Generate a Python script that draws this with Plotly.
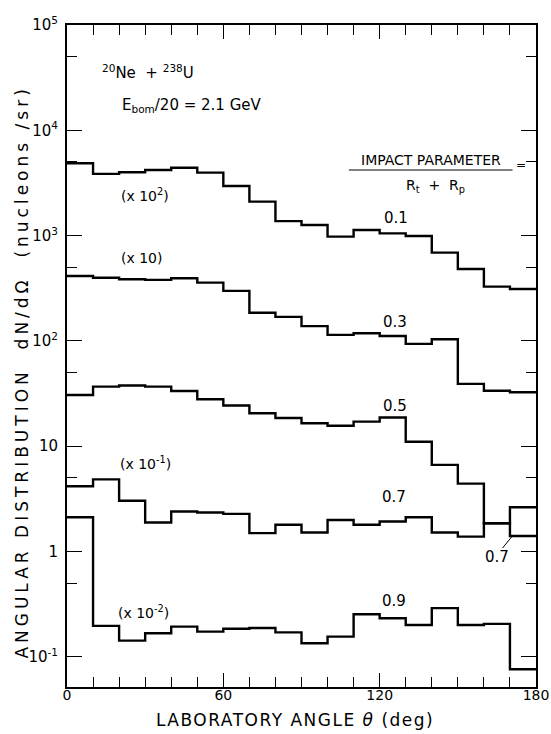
import plotly.graph_objects as go

# ---------------- data ----------------
bin_edges = [0, 10, 20, 30, 40, 50, 60, 70, 80, 90, 100, 110, 120, 130, 140, 150, 160, 170, 180]

b01_x100 = [4860, 3850, 3990, 4200, 4410, 3960, 2960, 2100, 1370, 1260, 977, 1130, 1050, 991, 689, 482, 327, 311]
b03_x10 = [413, 398, 385, 379, 393, 357, 298, 185, 169, 138, 114, 118, 111, 93.5, 103.5, 39, 33.6, 32.5]
b05_x1 = [30.6, 36.7, 37.6, 36.7, 33.4, 27.9, 24.3, 20.5, 18.5, 16.5, 15.6, 17.1, 18.7, 11.0, 6.63, 4.40, 1.85, 2.63]
b07_x01 = [4.16, 4.83, 3.03, 1.88, 2.39, 2.34, 2.27, 1.49, 1.79, 1.51, 1.99, 1.79, 1.92, 2.11, 1.51, 1.38, 1.85, 1.40]
b09_x001 = [2.11, 0.196, 0.142, 0.167, 0.193, 0.173, 0.184, 0.187, 0.170, 0.134, 0.155, 0.253, 0.232, 0.200, 0.289, 0.200, 0.205, 0.076]

series = [b01_x100, b03_x10, b05_x1, b07_x01, b09_x001]

y_tickvals = [0.1, 1, 10, 100, 1000, 10000, 100000]
y_ticktext = ["10<sup>-1</sup>", "1", "10", "10<sup>2</sup>", "10<sup>3</sup>", "10<sup>4</sup>", "10<sup>5</sup>"]
y_minor = [0.5, 5, 50, 500, 5000, 50000]
x_tickvals = [0, 60, 120, 180]
x_ticktext = ["0", "60", "120", "180"]

# ---------------- figure ----------------
W, H = 551, 734
L, R, T, B = 66.5, 536.5, 25, 687
FONT = "DejaVu Sans"

def px(xp):
    return (xp - L) / (R - L)

def py(yp):
    return 1 - (yp - T) / (B - T)

def spaced(text, sp):
    return '<span style="letter-spacing:%spx">%s</span>' % (sp, text)

fig = go.Figure()
for vals in series:
    fig.add_trace(go.Scatter(
        x=bin_edges, y=vals + [vals[-1]], mode="lines",
        line=dict(color="black", width=2.4, shape="hv"),
        showlegend=False, hoverinfo="skip"))

fig.update_layout(
    width=W, height=H,
    margin=dict(l=L, r=W - R, t=T, b=H - B, autoexpand=False),
    paper_bgcolor="white", plot_bgcolor="white",
    font=dict(family=FONT, color="black", size=15),
)
fig.update_xaxes(
    range=[-0.001, 180.001], automargin=False, showgrid=False, zeroline=False,
    showline=True, linecolor="black", linewidth=2, mirror="ticks",
    ticks="inside", ticklen=14, tickwidth=1.3, tickcolor="black",
    tickvals=x_tickvals, ticktext=x_ticktext, tickfont=dict(size=14),
    ticklabelstandoff=-6,
    minor=dict(dtick=10, ticks="inside", ticklen=10, tickwidth=1.3, tickcolor="black", showgrid=False),
)
fig.update_yaxes(
    type="log", range=[-1.288, 5.0], automargin=False, showgrid=False, zeroline=False,
    showline=True, linecolor="black", linewidth=2, mirror="ticks",
    ticks="inside", ticklen=15, tickwidth=1.3, tickcolor="black",
    tickvals=y_tickvals, ticktext=y_ticktext, tickfont=dict(size=15),
    ticklabelstandoff=4,
    minor=dict(tickvals=y_minor, ticks="inside", ticklen=10, tickwidth=1.3, tickcolor="black", showgrid=False),
)

def ann(text, xp, yp, size=15, **kw):
    fig.add_annotation(text=text, x=px(xp), y=py(yp), xref="paper", yref="paper",
                       showarrow=False, font=dict(size=size, family=FONT, color="black"),
                       xanchor="center", yanchor="middle", **kw)

# axis titles
ann(spaced("ANGULAR DISTRIBUTION  dN/dΩ  (nucleons /sr)", 4), 21, 372, size=17, textangle=-90)
ann(spaced("LABORATORY ANGLE <i>θ</i> (deg)", 1.5), 295, 720, size=17)

# reaction text
ann("<sup>20</sup>Ne  + <sup>238</sup>U", 148, 72, size=15)
ann("E<sub>bom</sub>/20 = 2.1 GeV", 192, 105, size=15)

# scale factors
ann("(x 10<sup>2</sup>)", 145, 195, size=14)
ann("(x 10)", 141, 258, size=14)
ann("(x 10<sup>-1</sup>)", 145, 463, size=14)
ann("(x 10<sup>-2</sup>)", 143, 612, size=14)

# impact parameter fraction
ann("IMPACT PARAMETER", 431, 160, size=14)
ann("=", 521, 165, size=12)
ann("R<sub>t</sub>  +  R<sub>p</sub>", 436, 186, size=14)
fig.add_shape(type="line", xref="paper", yref="paper",
              x0=px(349), x1=px(513), y0=py(170), y1=py(170),
              line=dict(color="black", width=1.2))

# curve labels
ann("0.1", 396, 218)
ann("0.3", 395, 322)
ann("0.5", 395, 406)
ann("0.7", 394, 497)
ann("0.7", 497, 557)
ann("0.9", 394, 601)
fig.add_shape(type="line", xref="paper", yref="paper",
              x0=px(503), x1=px(512), y0=py(548), y1=py(537),
              line=dict(color="black", width=1))

fig.write_html("out.html")
